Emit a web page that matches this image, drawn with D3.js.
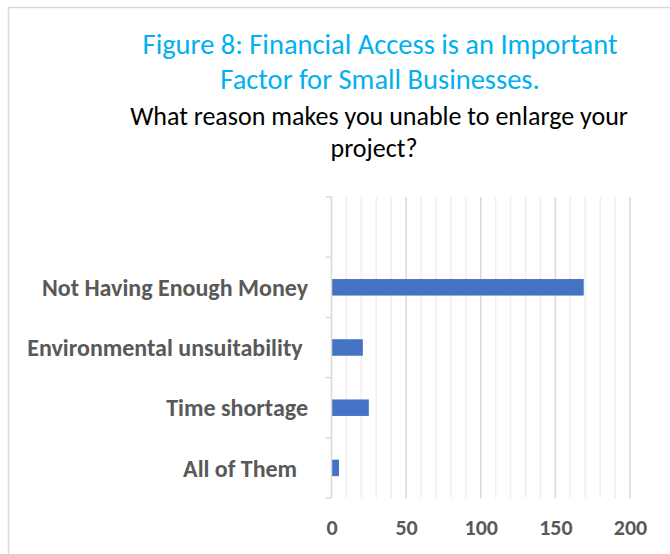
<!DOCTYPE html>
<html>
<head>
<meta charset="utf-8">
<script src="https://cdn.jsdelivr.net/npm/d3@7"></script>
<style>
  html, body { margin: 0; padding: 0; background: #fff; }
  svg { display: block; }
  .cat text { white-space: pre; }
</style>
</head>
<body>
<script>
// Survey answers, listed bottom-to-top as the bars stack upward; the top slot is left empty.
const categories = ["All of Them  ", "Time shortage", "Environmental unsuitability ", "Not Having Enough Money", ""];
const values = [5, 25, 21, 169, null];
const xTicks = [0, 50, 100, 150, 200];
const minorStep = 10;

const titleLines = ["Figure 8: Financial Access is an Important", "Factor for Small Businesses."];
const subtitleLines = ["What reason makes you unable to enlarge your", "project?"];

const W = 670, H = 554;
const svg = d3.select("body").append("svg").attr("width", W).attr("height", H);

// chart frame
svg.append("rect")
  .attr("x", 8.5).attr("y", 7.5)
  .attr("width", W + 20).attr("height", H + 20)
  .attr("fill", "#fff").attr("stroke", "#d9d9d9").attr("stroke-width", 1.5);

const plot = { left: 331.5, right: 630, top: 197, bottom: 498 };

const x = d3.scaleLinear().domain([0, 200]).range([plot.left, plot.right]);
const y = d3.scaleBand()
  .domain(d3.range(categories.length))
  .range([plot.bottom, plot.top])
  .paddingInner(0).paddingOuter(0);

const font = "Calibri, Carlito, Lato, 'Open Sans', sans-serif";

// minor gridlines
const minor = d3.range(0, 201, minorStep).filter(v => v % 50 !== 0);
svg.append("g").selectAll("line").data(minor).join("line")
  .attr("x1", d => x(d)).attr("x2", d => x(d))
  .attr("y1", plot.top).attr("y2", plot.bottom)
  .attr("stroke", "#efefef").attr("stroke-width", 1.5);

// major gridlines
svg.append("g").selectAll("line").data(xTicks.filter(v => v > 0)).join("line")
  .attr("x1", d => x(d)).attr("x2", d => x(d))
  .attr("y1", plot.top).attr("y2", plot.bottom)
  .attr("stroke", "#d9d9d9").attr("stroke-width", 1.5);

// bars
const barH = 16.5;
svg.append("g").selectAll("rect")
  .data(values.map((v, i) => ({ v, i })).filter(d => d.v != null))
  .join("rect")
  .attr("x", x(0))
  .attr("y", d => y(d.i) + y.bandwidth() / 2 - barH / 2)
  .attr("width", d => x(d.v) - x(0))
  .attr("height", barH)
  .attr("fill", "#4472C4");

// category axis with tick marks on band boundaries
const yAxisG = svg.append("g").attr("class", "cat");
yAxisG.append("line")
  .attr("x1", plot.left).attr("x2", plot.left)
  .attr("y1", plot.top).attr("y2", plot.bottom)
  .attr("stroke", "#d9d9d9").attr("stroke-width", 1.5);
const bounds = d3.range(categories.length + 1).map(i => i === categories.length ? plot.top : y(i) + y.bandwidth());
yAxisG.selectAll("line.tk").data(bounds).join("line").attr("class", "tk")
  .attr("x1", plot.left - 6).attr("x2", plot.left)
  .attr("y1", d => d).attr("y2", d => d)
  .attr("stroke", "#d9d9d9").attr("stroke-width", 1.5);
yAxisG.selectAll("text").data(categories).join("text")
  .attr("x", 308)
  .attr("y", (d, i) => y(i) + y.bandwidth() / 2)
  .attr("dy", "0.36em")
  .attr("text-anchor", "end")
  .attr("font-family", font)
  .attr("font-weight", "bold")
  .attr("font-size", 24)
  .attr("fill", "#595959")
  .text(d => d);

// value axis labels
const xAxis = d3.axisBottom(x).tickValues(xTicks).tickSize(0).tickPadding(0);
const xg = svg.append("g").attr("transform", `translate(0, 535)`).call(xAxis);
xg.select(".domain").remove();
xg.selectAll("text")
  .attr("font-family", font)
  .attr("font-weight", "bold")
  .attr("font-size", 22)
  .attr("fill", "#595959")
  .attr("y", 0)
  .attr("dy", 0);

// titles
const cx = 380;
svg.append("g").selectAll("text").data(titleLines).join("text")
  .attr("x", cx).attr("y", (d, i) => 54 + i * 35)
  .attr("text-anchor", "middle")
  .attr("font-family", font)
  .attr("font-size", 28.5)
  .attr("fill", "#00B0F0")
  .text(d => d);
svg.append("g").selectAll("text").data(subtitleLines).join("text")
  .attr("x", (d, i) => i === 0 ? 379 : 374).attr("y", (d, i) => 125 + i * 32)
  .attr("text-anchor", "middle")
  .attr("font-family", font)
  .attr("font-size", 26)
  .attr("fill", "#000")
  .text(d => d);
</script>
</body>
</html>
